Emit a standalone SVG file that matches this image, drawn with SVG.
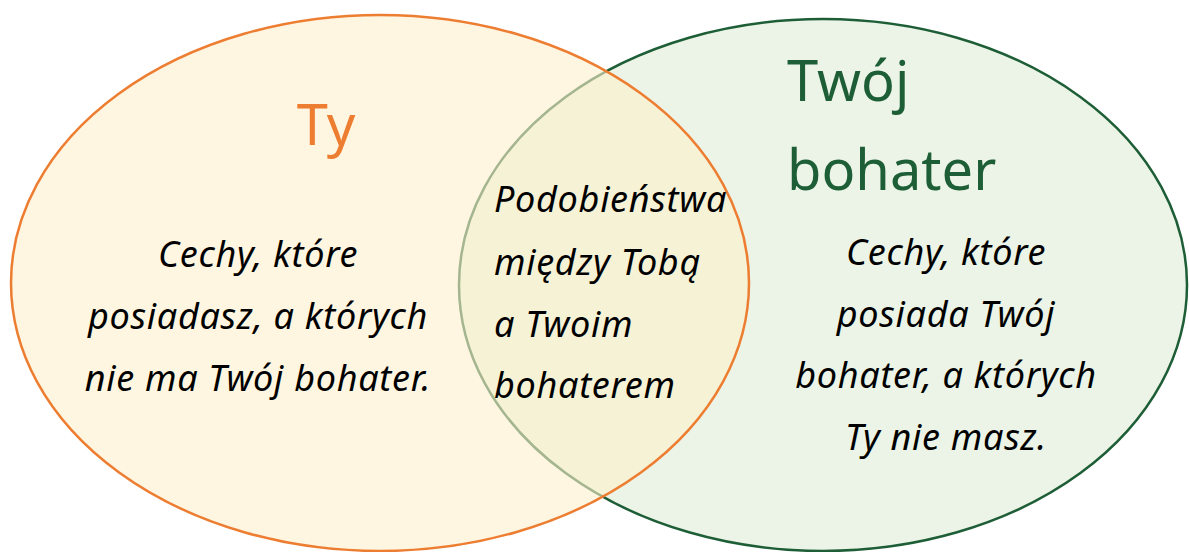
<svg xmlns="http://www.w3.org/2000/svg" width="1189" height="552" viewBox="0 0 1189 552">
<style>
.body{font-family:"Noto Sans","Liberation Sans",sans-serif;font-style:italic;font-size:36px;letter-spacing:0.7px;fill:#000}
.title{font-family:"Noto Sans","Liberation Sans",sans-serif;font-size:56px}
.mid{text-anchor:middle}
</style>
<rect width="1189" height="552" fill="#ffffff"/>
<g id="hero">
<ellipse cx="823" cy="285" rx="364" ry="266" fill="#ebf4e6" stroke="#1e5e37" stroke-width="2.5"/>
</g>
<g id="you">
<ellipse cx="380" cy="283" rx="369" ry="268" fill="#fdf0cb" fill-opacity="0.6" stroke="#ed7d31" stroke-width="2.5"/>
</g>
<g id="you-labels">
<text class="title mid" x="326" y="145" fill="#ed7d31">Ty</text>
<text class="body mid" x="258" y="267">Cechy, które</text>
<text class="body mid" x="258" y="329">posiadasz, a których</text>
<text class="body mid" x="258" y="391">nie ma Twój bohater.</text>
</g>
<g id="hero-labels">
<text class="title" x="787" y="101" fill="#1e5e37">Twój</text>
<text class="title" x="787" y="190" fill="#1e5e37">bohater</text>
<text class="body mid" x="946" y="265">Cechy, które</text>
<text class="body mid" x="946" y="327">posiada Twój</text>
<text class="body mid" x="946" y="388">bohater, a których</text>
<text class="body mid" x="946" y="450">Ty nie masz.</text>
</g>
<g id="common">
<text class="body" x="494" y="212">Podobieństwa</text>
<text class="body" x="494" y="275">między Tobą</text>
<text class="body" x="494" y="337">a Twoim</text>
<text class="body" x="494" y="398">bohaterem</text>
</g>
<g id="connectors"></g>
</svg>
